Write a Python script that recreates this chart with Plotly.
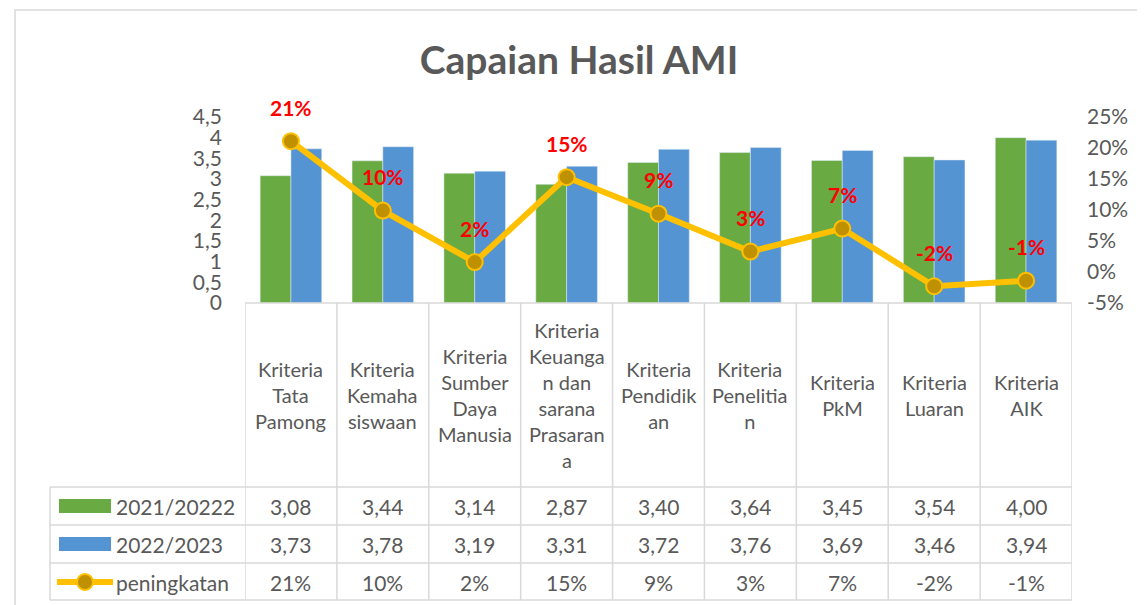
import plotly.graph_objects as go

categories = [
    "Kriteria Tata Pamong",
    "Kriteria Kemahasiswaan",
    "Kriteria Sumber Daya Manusia",
    "Kriteria Keuangan dan sarana Prasarana",
    "Kriteria Pendidikan",
    "Kriteria Penelitian",
    "Kriteria PkM",
    "Kriteria Luaran",
    "Kriteria AIK",
]
header_labels = [
    "Kriteria<br>Tata<br>Pamong",
    "Kriteria<br>Kemaha<br>siswaan",
    "Kriteria<br>Sumber<br>Daya<br>Manusia",
    "Kriteria<br>Keuanga<br>n dan<br>sarana<br>Prasaran<br>a",
    "Kriteria<br>Pendidik<br>an",
    "Kriteria<br>Penelitia<br>n",
    "Kriteria<br>PkM",
    "Kriteria<br>Luaran",
    "Kriteria<br>AIK",
]
series_names = ["2021/20222", "2022/2023", "peningkatan"]
nilai_2021 = [3.08, 3.44, 3.14, 2.87, 3.40, 3.64, 3.45, 3.54, 4.00]
nilai_2022 = [3.73, 3.78, 3.19, 3.31, 3.72, 3.76, 3.69, 3.46, 3.94]
peningkatan = [0.211, 0.099, 0.016, 0.153, 0.094, 0.033, 0.070, -0.023, -0.014]

left_ticks = [0, 0.5, 1, 1.5, 2, 2.5, 3, 3.5, 4, 4.5]
left_ticktext = ["0", "0,5", "1", "1,5", "2", "2,5", "3", "3,5", "4", "4,5"]
right_ticks = [-0.05, 0, 0.05, 0.10, 0.15, 0.20, 0.25]
right_ticktext = ["-5%", "0%", "5%", "10%", "15%", "20%", "25%"]

GREEN = "#6AAA42"
BLUE = "#5494D3"
YELLOW = "#FFC000"
DARK_GOLD = "#BF9000"
GRID = "#D9D9D9"
TXT = "#595959"
FONT = "Lato, 'Open Sans', sans-serif"

W, H = 1145, 605
OFF = 8  # page body margin shifts the figure, compensate


def px(x):
    return (x - OFF) / W


def py(y):
    return (H - (y - OFF)) / H


def fmt_num(v):
    return f"{v:.2f}".replace(".", ",")


def fmt_pct(v):
    return f"{round(v * 100):.0f}%"


fig = go.Figure()
fig.add_trace(go.Bar(x=categories, y=nilai_2021, name=series_names[0],
                     marker_color=GREEN, hoverinfo="y"))
fig.add_trace(go.Bar(x=categories, y=nilai_2022, name=series_names[1],
                     marker_color=BLUE, hoverinfo="y"))
fig.add_trace(go.Scatter(
    x=categories, y=peningkatan, name=series_names[2], yaxis="y2",
    mode="lines+markers",
    line=dict(color=YELLOW, width=6),
    marker=dict(size=16, color=DARK_GOLD, line=dict(color=YELLOW, width=2)),
))

# plot area in reference pixels: x 245..1072, y 117..303
n = len(categories)
shapes = []
# outer chart border
shapes.append(dict(type="rect", xref="paper", yref="paper",
                   x0=px(15), x1=1.05, y0=-0.05, y1=py(10),
                   line=dict(color=GRID, width=1.5)))

# table grid
shapes.append(dict(type="line", xref="x", yref="paper", x0=-0.5, x1=n - 0.5,
                   y0=py(303), y1=py(303), line=dict(color=GRID, width=1.5)))
for r in [487, 525, 563, 600]:
    shapes.append(dict(type="line", xref="paper", yref="paper",
                       x0=px(50), x1=px(1072), y0=py(r), y1=py(r),
                       line=dict(color=GRID, width=1.5)))
for i in range(n + 1):
    shapes.append(dict(type="line", xref="x", yref="paper",
                       x0=i - 0.5, x1=i - 0.5, y0=py(600), y1=py(303),
                       line=dict(color=GRID, width=1.5)))
shapes.append(dict(type="line", xref="paper", yref="paper",
                   x0=px(50), x1=px(50), y0=py(600), y1=py(487),
                   line=dict(color=GRID, width=1.5)))

# legend keys inside the table
row_y = [506, 544, 582]
for ry, col in zip(row_y[:2], [GREEN, BLUE]):
    shapes.append(dict(type="rect", xref="paper", yref="paper",
                       x0=px(59), x1=px(111), y0=py(ry + 7), y1=py(ry - 7),
                       fillcolor=col, line=dict(width=0)))
shapes.append(dict(type="line", xref="paper", yref="paper",
                   x0=px(57), x1=px(113), y0=py(row_y[2]), y1=py(row_y[2]),
                   line=dict(color=YELLOW, width=6)))
shapes.append(dict(type="circle", xref="paper", yref="paper",
                   x0=px(77), x1=px(93), y0=py(row_y[2] + 8), y1=py(row_y[2] - 8),
                   fillcolor=DARK_GOLD, line=dict(color=YELLOW, width=2)))

annotations = []
# header labels
for c, lab in zip(categories, header_labels):
    annotations.append(dict(x=c, xref="x", y=py(395), yref="paper",
                            text=lab, showarrow=False, yanchor="middle",
                            font=dict(size=20, color=TXT, family=FONT)))
# legend names
for ry, name in zip(row_y, series_names):
    annotations.append(dict(x=px(114), xref="paper", y=py(ry), yref="paper",
                            text=name, showarrow=False, xanchor="left",
                            yanchor="middle",
                            font=dict(size=21, color=TXT, family=FONT)))
# table values
rows = [
    [fmt_num(v) for v in nilai_2021],
    [fmt_num(v) for v in nilai_2022],
    [fmt_pct(v) for v in peningkatan],
]
for ry, row in zip(row_y, rows):
    for c, t in zip(categories, row):
        annotations.append(dict(x=c, xref="x", y=py(ry), yref="paper", text=t,
                                showarrow=False, yanchor="middle",
                                font=dict(size=21, color=TXT, family=FONT)))
# data labels on the line
for c, v in zip(categories, peningkatan):
    annotations.append(dict(x=c, xref="x", y=v, yref="y2", yshift=34,
                            text=f"<b>{fmt_pct(v)}</b>", showarrow=False,
                            font=dict(size=21, color="#FF0000", family=FONT)))

fig.update_layout(
    width=W, height=H,
    margin=dict(l=0, r=0, t=0, b=0, autoexpand=False),
    paper_bgcolor="white", plot_bgcolor="white",
    font=dict(family=FONT, color=TXT),
    title=dict(text="<b>Capaian Hasil AMI</b>", x=px(579), xanchor="center",
               y=py(60), yanchor="middle",
               font=dict(size=39, color=TXT, family=FONT)),
    showlegend=False,
    barmode="group", bargap=0.33, bargroupgap=0,
    xaxis=dict(domain=[px(245), px(1072)], range=[-0.5, n - 0.5],
               showticklabels=False, showgrid=False, showline=False,
               zeroline=False, ticks="", automargin=False),
    yaxis=dict(domain=[py(303), py(117)], range=[0, 4.5], tickvals=left_ticks,
               ticktext=left_ticktext, showgrid=False, zeroline=False,
               showline=False, ticklabelstandoff=22, automargin=False,
               tickfont=dict(size=21, color=TXT, family=FONT)),
    yaxis2=dict(overlaying="y", side="right", range=[-0.05, 0.25],
                tickvals=right_ticks, ticktext=right_ticktext,
                showgrid=False, zeroline=False, showline=False,
                ticklabelstandoff=14, automargin=False,
                tickfont=dict(size=21, color=TXT, family=FONT)),
    shapes=shapes,
    annotations=annotations,
)

fig.write_html("out.html")
